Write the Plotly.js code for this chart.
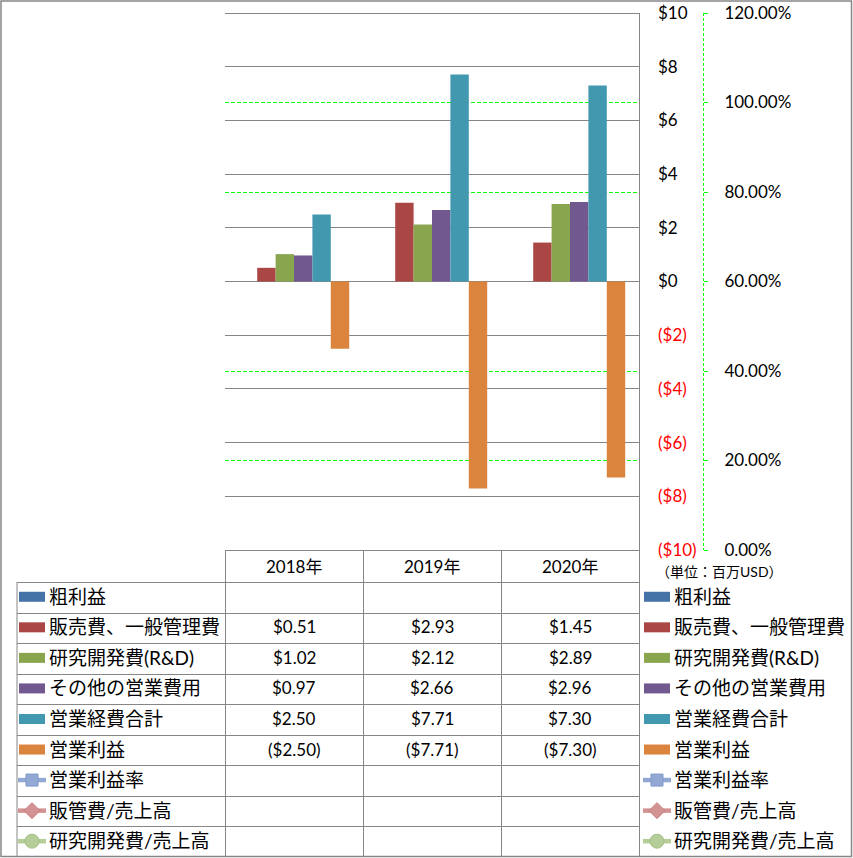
<!DOCTYPE html>
<html>
<head>
<meta charset="utf-8">
<script src="https://cdn.plot.ly/plotly-3.0.1.min.js"></script>
<style>
  html, body { margin: 0; padding: 0; background: #fff; }
  #chart { width: 853px; height: 858px; }
</style>
</head>
<body>
<div id="chart"></div>
<script>
// --- データ ---
const years = ['2018年', '2019年', '2020年'];
const barNames = ['粗利益', '販売費、一般管理費', '研究開発費(R&D)', 'その他の営業費用', '営業経費合計', '営業利益'];
const grossProfit = [null, null, null];
const sgaCost = [0.51, 2.93, 1.45];
const rdCost = [1.02, 2.12, 2.89];
const otherCost = [0.97, 2.66, 2.96];
const totalOpex = [2.50, 7.71, 7.30];
const opIncome = [-2.50, -7.71, -7.30];
const lineNames = ['営業利益率', '販管費/売上高', '研究開発費/売上高'];
const opMargin = [null, null, null];
const sgaRatio = [null, null, null];
const rdRatio = [null, null, null];
const yTickVals = [-10, -8, -6, -4, -2, 0, 2, 4, 6, 8, 10];
const yTickLabels = ['($10)', '($8)', '($6)', '($4)', '($2)', '$0', '$2', '$4', '$6', '$8', '$10'];
const y2TickVals = [0, 0.2, 0.4, 0.6, 0.8, 1.0, 1.2];
const unitLabel = '（単位：百万USD）';

// --- 色 ---
const barColors = ['#4572A7', '#AA4643', '#89A54E', '#71588F', '#4198AF', '#DB843D'];
const lineColors = ['#93A9D4', '#D49393', '#B5CD98'];
const lineEdge = ['#7F98C8', '#C77F7F', '#A3BF84'];
const gridGrey = '#868686';
const FONT = "Lato, 'Noto Sans CJK JP', sans-serif";

// プロット領域 (px) : x 225..639, y 13..550
const PX = px => (px - 225) / 414;
const PY = py => (550 - py) / 537;

const barSeries = [grossProfit, sgaCost, rdCost, otherCost, totalOpex, opIncome];
const lineSeries = [opMargin, sgaRatio, rdRatio];

const traces = [];
barSeries.forEach((vals, i) => {
    traces.push({
        type: 'bar', name: barNames[i], x: years, y: vals,
        marker: { color: barColors[i] }, yaxis: 'y',
        showlegend: false, hoverinfo: 'skip'
    });
});
lineSeries.forEach((vals, i) => {
    traces.push({
        type: 'scatter', mode: 'lines+markers', name: lineNames[i], x: years, y: vals,
        line: { color: lineColors[i], width: 4 }, yaxis: 'y2',
        showlegend: false, hoverinfo: 'skip'
    });
});

// --- 表とレジェンド ---
const shapes = [];
const annotations = [];
const line = (x0, y0, x1, y1, color, dash) => shapes.push({
    type: 'line', xref: 'paper', yref: 'paper',
    x0: PX(x0), y0: PY(y0), x1: PX(x1), y1: PY(y1),
    line: { color: color || gridGrey, width: 1, dash: dash || 'solid' }, layer: 'above'
});

const rowNames = barNames.concat(lineNames);
const rowTop = 582, rowH = 30.55, tableBottom = 857;
const rowCenter = i => rowTop + rowH * (i + 0.5);

// 外枠
shapes.push({
    type: 'rect', xref: 'paper', yref: 'paper',
    x0: PX(1), x1: PX(851.5), y0: PY(856.5), y1: PY(1),
    line: { color: gridGrey, width: 1.5 }, layer: 'above'
});
// プロット上下の線
line(225, 13.5, 639, 13.5);
line(225, 550.5, 639, 550.5);
// 行の罫線
for (let i = 0; i < rowNames.length; i++) {
    const y = Math.round(rowTop + rowH * i) + 0.5;
    line(17, y, 639, y);
}
// 列の罫線
line(17, 582, 17, tableBottom);
[225, 363, 501].forEach(x => line(x + 0.5, 550, x + 0.5, tableBottom));
line(639.5, 13, 639.5, tableBottom);
// 第2軸の破線
line(703.5, 13, 703.5, 550, '#00FF00', '3px,2px');

// 見出し
years.forEach(yr => annotations.push({
    xref: 'x', yref: 'paper', x: yr, y: PY(566), text: yr, showarrow: false,
    font: { family: FONT, size: 17, color: '#000' }, xanchor: 'center', yanchor: 'middle'
}));

const fmt = v => v == null ? '' : (v < 0 ? '($' + Math.abs(v).toFixed(2) + ')' : '$' + v.toFixed(2));

const drawKey = (i, cx) => {
    const cy = rowCenter(i) - 0.5;
    if (i < barNames.length) {
        shapes.push({
            type: 'rect', xref: 'paper', yref: 'paper',
            x0: PX(cx - 13), x1: PX(cx + 13), y0: PY(cy + 5), y1: PY(cy - 5),
            fillcolor: barColors[i], line: { width: 0 }, layer: 'above'
        });
    } else {
        const k = i - barNames.length;
        shapes.push({
            type: 'line', xref: 'paper', yref: 'paper',
            x0: PX(cx - 14), x1: PX(cx + 14), y0: PY(cy), y1: PY(cy),
            line: { color: lineColors[k], width: 4.5 }, layer: 'above'
        });
        const mk = { xref: 'paper', yref: 'paper', fillcolor: lineColors[k], line: { color: lineEdge[k], width: 1 }, layer: 'above' };
        if (k === 0) {
            shapes.push(Object.assign({ type: 'rect', x0: PX(cx - 6), x1: PX(cx + 6), y0: PY(cy + 6), y1: PY(cy - 6) }, mk));
        } else if (k === 1) {
            const p = (x, y) => PX(x) + ',' + PY(y);
            shapes.push(Object.assign({ type: 'path', path: 'M' + p(cx - 8, cy) + 'L' + p(cx, cy - 8) + 'L' + p(cx + 8, cy) + 'L' + p(cx, cy + 8) + 'Z' }, mk));
        } else {
            shapes.push(Object.assign({ type: 'circle', x0: PX(cx - 7), x1: PX(cx + 7), y0: PY(cy + 7), y1: PY(cy - 7) }, mk));
        }
    }
};

rowNames.forEach((name, i) => {
    const cy = rowCenter(i);
    // 左右のレジェンド
    [[32, 47], [657, 672]].forEach(([kx, tx]) => {
        drawKey(i, kx);
        annotations.push({
            xref: 'paper', yref: 'paper', x: PX(tx), y: PY(cy - 1), text: name, showarrow: false,
            font: { family: FONT, size: 19, color: '#000' }, xanchor: 'left', yanchor: 'middle'
        });
    });
    // 数値
    const vals = i < barSeries.length ? barSeries[i] : lineSeries[i - barSeries.length];
    years.forEach((yr, j) => {
        const t = fmt(vals[j]);
        if (!t) return;
        annotations.push({
            xref: 'x', yref: 'paper', x: yr, y: PY(cy - 1), text: t, showarrow: false,
            font: { family: FONT, size: 17, color: '#000' }, xanchor: 'center', yanchor: 'middle'
        });
    });
});

// 単位
annotations.push({
    xref: 'paper', yref: 'paper', x: PX(654), y: PY(571), text: unitLabel, showarrow: false,
    font: { family: FONT, size: 14, color: '#000' }, xanchor: 'left', yanchor: 'middle'
});

const yTickText = yTickVals.map((v, i) => v < 0 ? '<span style="color:#FF0000">' + yTickLabels[i] + '</span>' : yTickLabels[i]);

const layout = {
    width: 853, height: 858,
    margin: { l: 225, r: 214, t: 13, b: 308, pad: 0 },
    paper_bgcolor: '#fff', plot_bgcolor: 'rgba(0,0,0,0)',
    barmode: 'group', bargap: 0.2, bargroupgap: 0,
    showlegend: false,
    font: { family: FONT, size: 17, color: '#000' },
    xaxis: {
        type: 'category', range: [-0.5, 2.5], showgrid: false, zeroline: false,
        showline: false, showticklabels: false, ticks: '', fixedrange: true
    },
    yaxis: {
        range: [-10, 10], side: 'right', tickvals: yTickVals, ticktext: yTickText,
        showgrid: true, gridcolor: gridGrey, gridwidth: 1,
        zeroline: true, zerolinecolor: gridGrey, zerolinewidth: 1,
        showline: false, ticks: '', ticklabelstandoff: 18,
        tickfont: { family: FONT, size: 17, color: '#000' }, fixedrange: true
    },
    yaxis2: {
        overlaying: 'y', side: 'right', anchor: 'free', position: 1, shift: 64, autoshift: false,
        range: [0, 1.2], tickvals: y2TickVals, tickformat: '.2%',
        showgrid: true, gridcolor: '#00FF00', gridwidth: 1, griddash: '4px,2px',
        zeroline: false, showline: false,
        ticks: 'outside', ticklen: 4, tickcolor: '#00FF00', tickwidth: 1, ticklabelstandoff: 13,
        tickfont: { family: FONT, size: 17, color: '#000' }, fixedrange: true
    },
    shapes: shapes,
    annotations: annotations
};

Plotly.newPlot('chart', traces, layout, { displayModeBar: false, staticPlot: true });
</script>
</body>
</html>
